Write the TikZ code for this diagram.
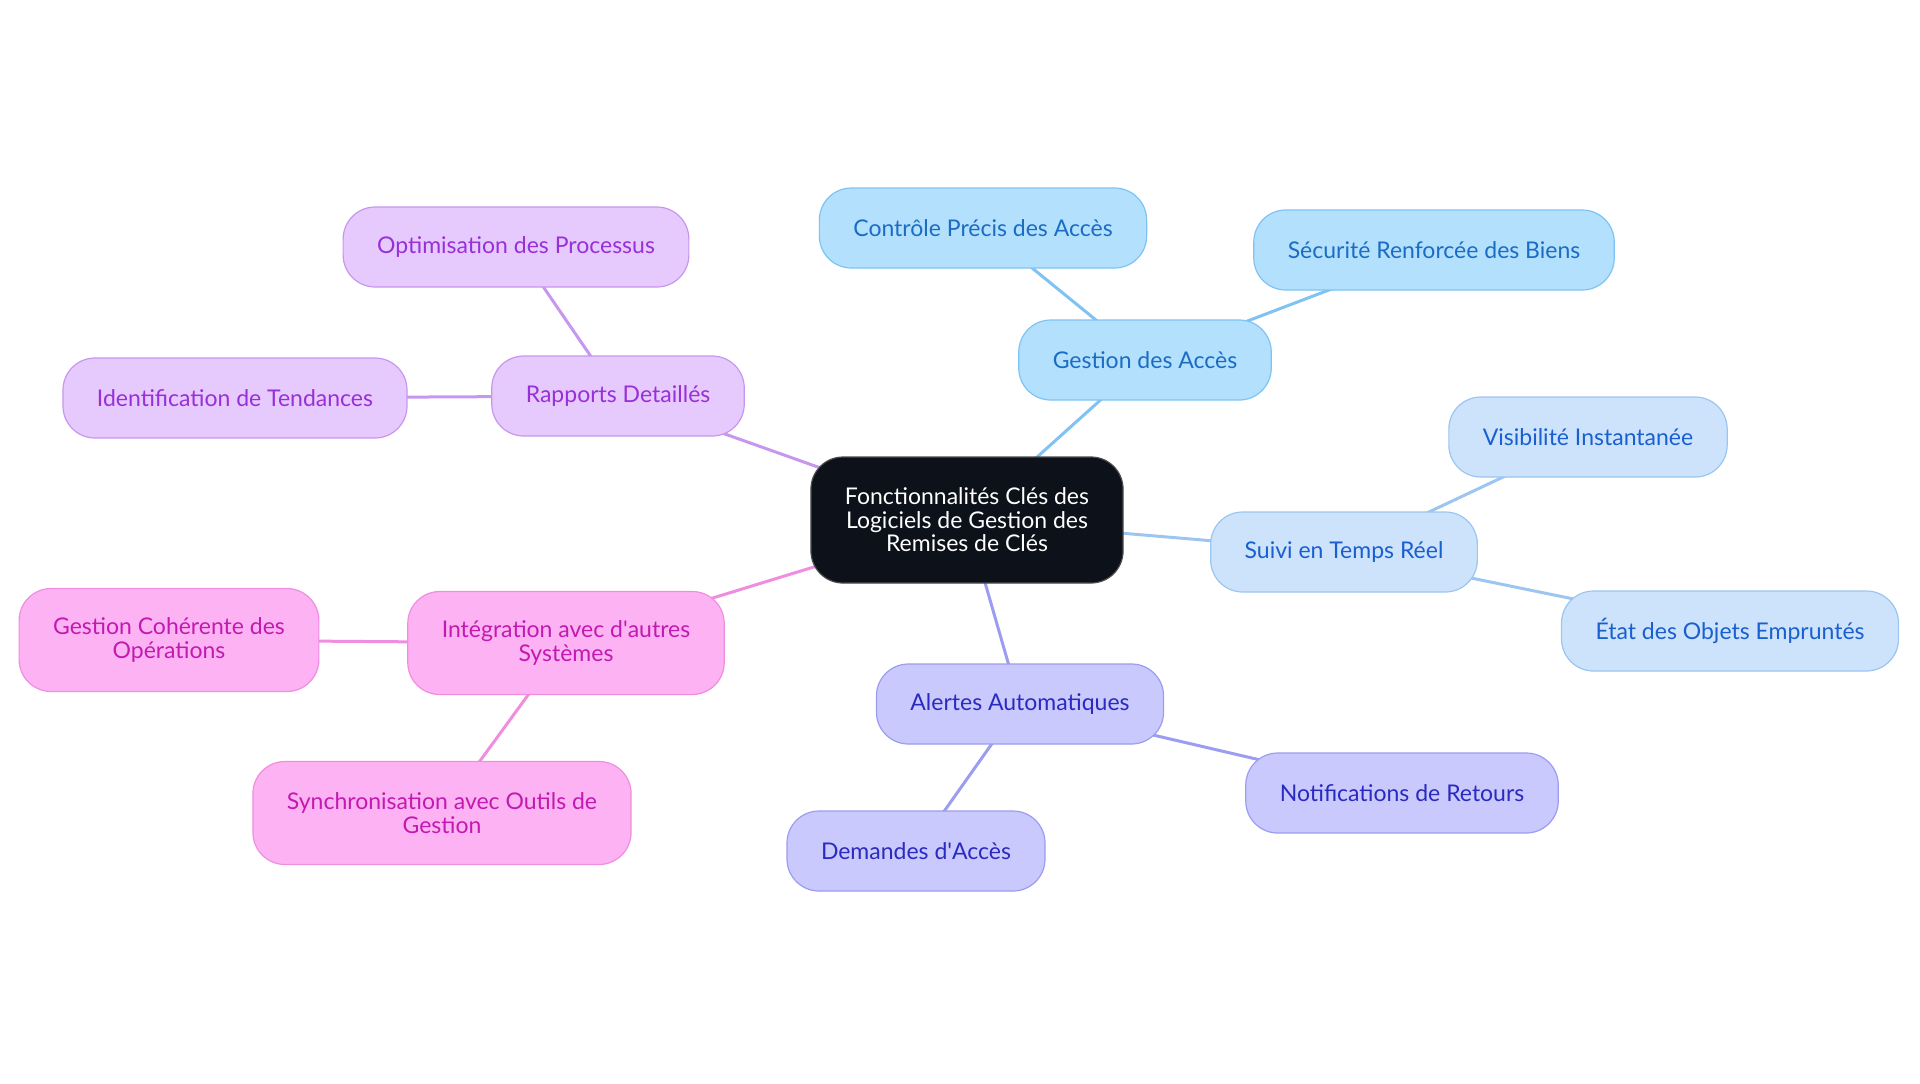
\documentclass[tikz,border=0pt]{standalone}
\usepackage{fontspec}
\setmainfont{Lato}
\usetikzlibrary{backgrounds}

\definecolor{centrefill}{HTML}{0D1119}
\definecolor{accesfill}{HTML}{B3E0FD}
\definecolor{accesdraw}{HTML}{7FC3F3}
\definecolor{accestext}{HTML}{1A6CC4}
\definecolor{suivifill}{HTML}{CCE3FB}
\definecolor{suividraw}{HTML}{9CC5F1}
\definecolor{suivitext}{HTML}{1A5FCF}
\definecolor{alertefill}{HTML}{C9C9FD}
\definecolor{alertedraw}{HTML}{9C9CF0}
\definecolor{alertetext}{HTML}{2A2AC0}
\definecolor{integfill}{HTML}{FDB3F3}
\definecolor{integdraw}{HTML}{EF8DE0}
\definecolor{integtext}{HTML}{C21AB0}
\definecolor{rapportfill}{HTML}{E6C9FD}
\definecolor{rapportdraw}{HTML}{C797EF}
\definecolor{rapporttext}{HTML}{9830D8}

\tikzset{
	box/.style={rounded corners=16pt, align=center, inner xsep=17pt, inner ysep=4pt,
		minimum height=40pt, line width=0.6pt, font=\fontsize{11.5}{11.8}\selectfont},
	centrebox/.style={box, fill=centrefill, draw=black!70, text=white, minimum height=63pt},
	accesbox/.style={box, fill=accesfill, draw=accesdraw, text=accestext},
	suivibox/.style={box, fill=suivifill, draw=suividraw, text=suivitext},
	alertebox/.style={box, fill=alertefill, draw=alertedraw, text=alertetext},
	integbox/.style={box, fill=integfill, draw=integdraw, text=integtext, minimum height=51.5pt},
	rapportbox/.style={box, fill=rapportfill, draw=rapportdraw, text=rapporttext},
	link/.style={line width=1.5pt},
}

\begin{document}
\begin{tikzpicture}[x=0.5pt, y=-0.5pt]
			%%%%% START %%%%%
			\useasboundingbox (0, 0) rectangle (1920, 1083);
			
			\node[centrebox] (centre) at (967, 520) {Fonctionnalités Clés des\\Logiciels de Gestion des\\Remises de Clés};
			
			\node[accesbox] (acces) at (1145, 360) {Gestion des Accès};
			\node[accesbox] (controle) at (983, 228) {Contrôle Précis des Accès};
			\node[accesbox] (securite) at (1434, 250) {Sécurité Renforcée des Biens};
			
			\node[suivibox] (suivi) at (1344, 552) {Suivi en Temps Réel};
			\node[suivibox] (visibilite) at (1588, 437) {Visibilité Instantanée};
			\node[suivibox] (etat) at (1730, 631) {État des Objets Empruntés};
			
			\node[alertebox] (alertes) at (1020, 704) {Alertes Automatiques};
			\node[alertebox] (notif) at (1402, 793) {Notifications de Retours};
			\node[alertebox] (demandes) at (916, 851) {Demandes d\textquotesingle Accès};
			
			\node[integbox] (integ) at (566, 643) {Intégration avec d\textquotesingle autres\\Systèmes};
			\node[integbox] (coherente) at (169, 640) {Gestion Cohérente des\\Opérations};
			\node[integbox] (synchro) at (442, 813) {Synchronisation avec Outils de\\Gestion};
			
			\node[rapportbox] (rapports) at (618, 396) {Rapports Detaillés};
			\node[rapportbox] (tendances) at (235, 398) {Identification de Tendances};
			\node[rapportbox] (optim) at (516, 247) {Optimisation des Processus};
			
			\begin{scope}[on background layer]
				\draw[link, color=accesdraw] (centre.center) -- (acces.center);
				\draw[link, color=accesdraw] (acces.center) -- (controle.center);
				\draw[link, color=accesdraw] (acces.center) -- (securite.center);
				
				\draw[link, color=suividraw] (centre.center) -- (suivi.center);
				\draw[link, color=suividraw] (suivi.center) -- (visibilite.center);
				\draw[link, color=suividraw] (suivi.center) -- (etat.center);
				
				\draw[link, color=alertedraw] (centre.center) -- (alertes.center);
				\draw[link, color=alertedraw] (alertes.center) -- (notif.center);
				\draw[link, color=alertedraw] (alertes.center) -- (demandes.center);
				
				\draw[link, color=integdraw] (centre.center) -- (integ.center);
				\draw[link, color=integdraw] (integ.center) -- (coherente.center);
				\draw[link, color=integdraw] (integ.center) -- (synchro.center);
				
				\draw[link, color=rapportdraw] (centre.center) -- (rapports.center);
				\draw[link, color=rapportdraw] (rapports.center) -- (tendances.center);
				\draw[link, color=rapportdraw] (rapports.center) -- (optim.center);
			\end{scope}
			
			%%%%% END %%%%%
\end{tikzpicture}
\end{document}
